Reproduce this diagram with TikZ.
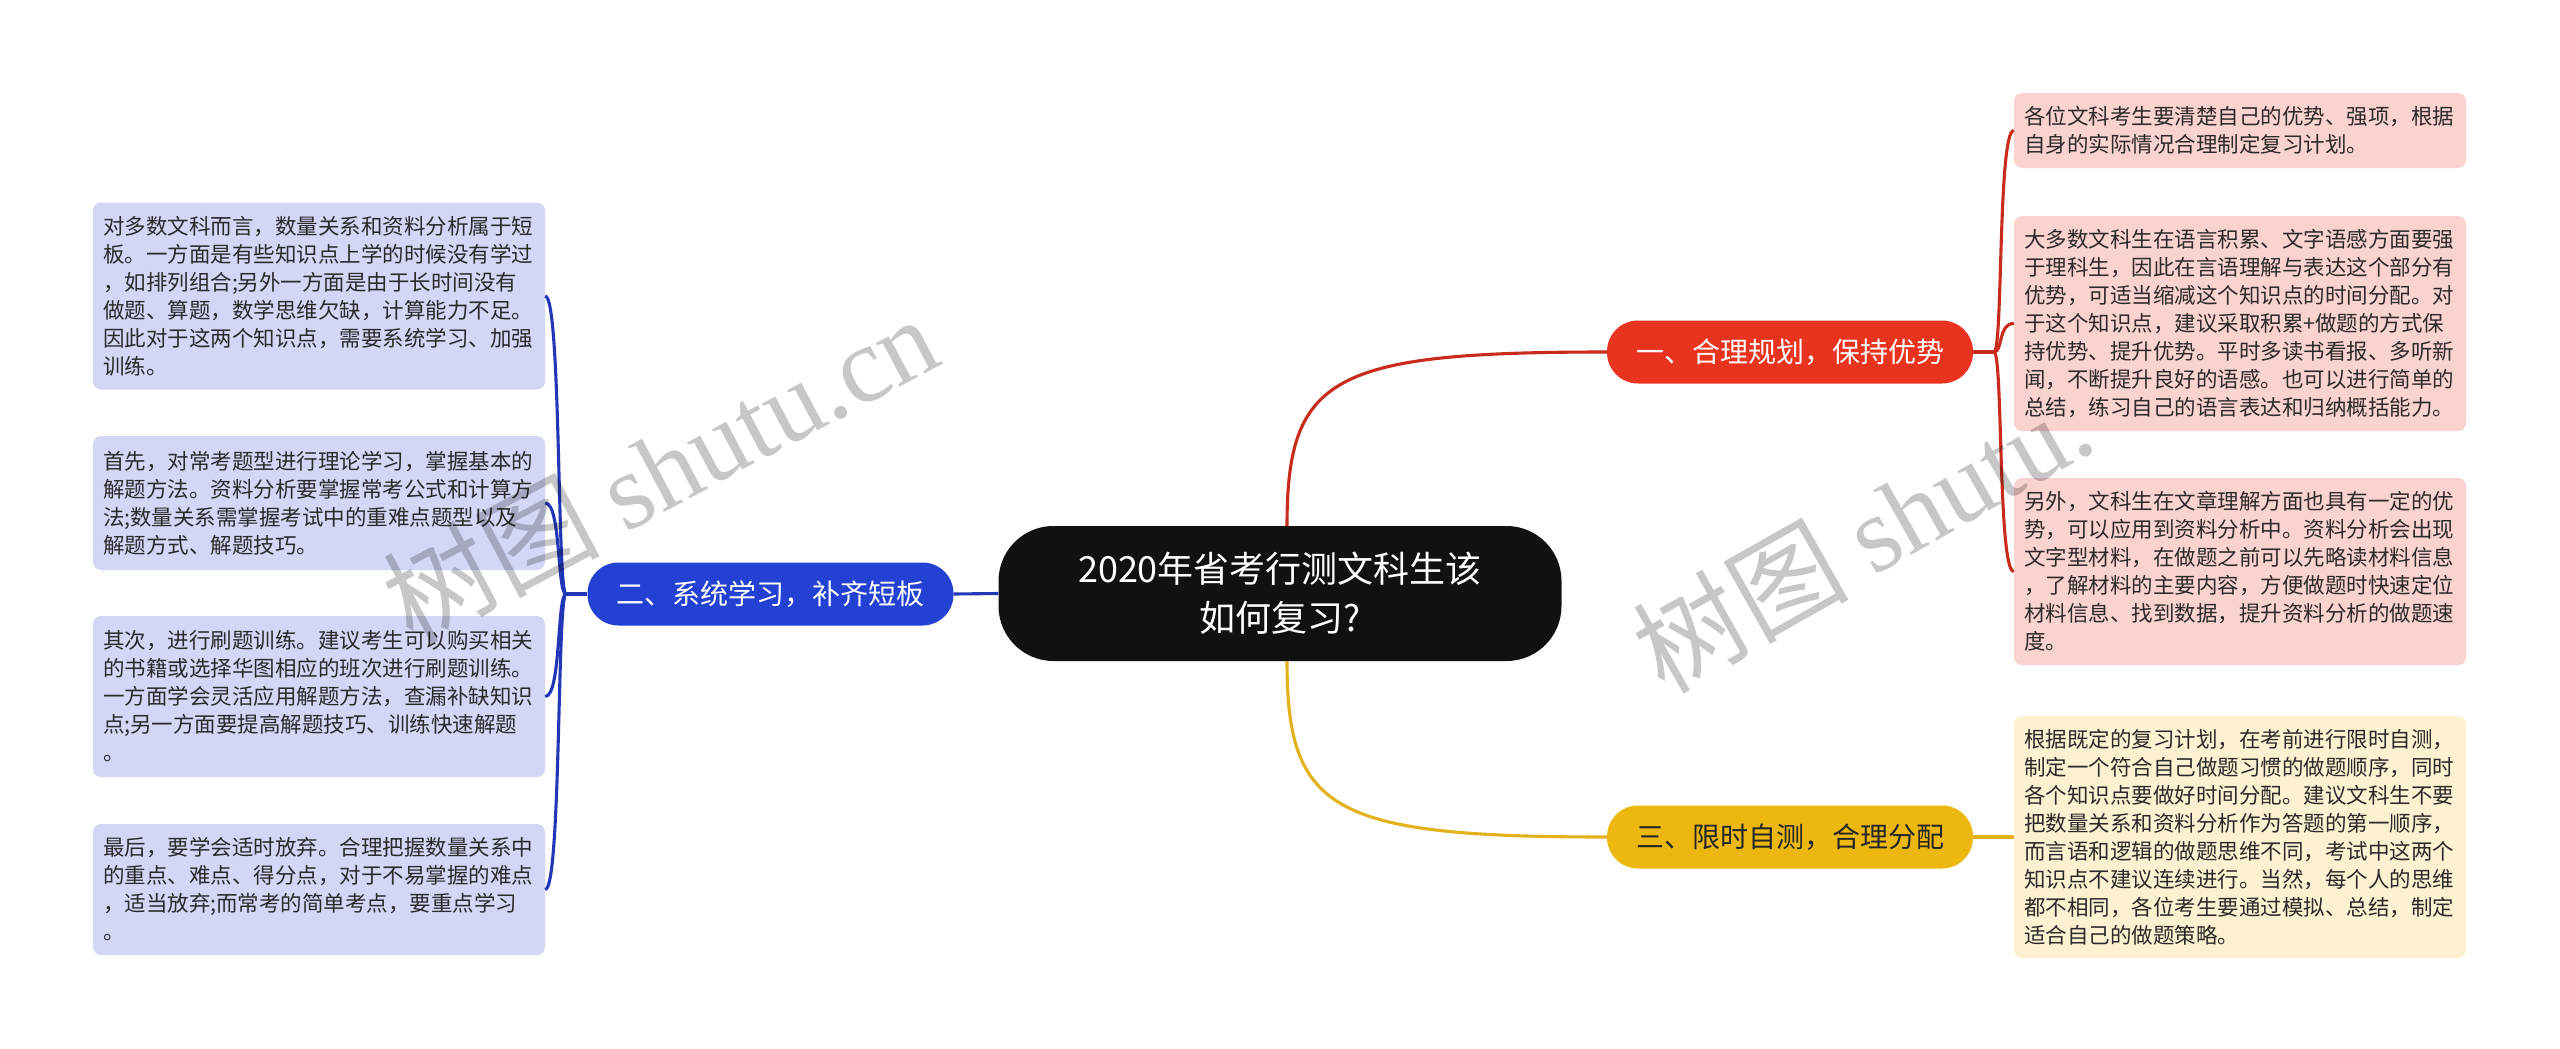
\documentclass[tikz,border=0pt]{standalone}
\usepackage{fontspec}
\setmainfont{Noto Sans CJK SC}
\newfontfamily\wmserif{Liberation Serif}
\usetikzlibrary{calc}
\definecolor{centerfill}{HTML}{111111}
\definecolor{redfill}{HTML}{E8331E}
\definecolor{bluefill}{HTML}{2341D3}
\definecolor{yellowfill}{HTML}{ECB80F}
\definecolor{redline}{HTML}{C92B1B}
\definecolor{blueline}{HTML}{2236B8}
\definecolor{yellowline}{HTML}{E3B11A}
\definecolor{lavbox}{HTML}{D3D7F5}
\definecolor{pinkbox}{HTML}{FAD3D0}
\definecolor{creambox}{HTML}{FDF1D2}
\definecolor{leaftext}{HTML}{2A2A2A}
\begin{document}
\begin{tikzpicture}[x=1pt,y=-1pt,
  leafbox/.style={rounded corners=8pt, inner sep=0pt, minimum width=452pt,
    text width=432pt, align=left, text=leaftext,
    font=\fontsize{21.5}{28}\selectfont},
  branch/.style={rounded corners=31pt, inner sep=0pt, minimum width=366pt,
    minimum height=63pt, font=\fontsize{28}{34}\selectfont},
  rootnode/.style={fill=centerfill, text=white, rounded corners=55pt,
    inner sep=0pt, minimum width=563pt, minimum height=135pt, align=center,
    font=\fontsize{36}{49}\selectfont},
  redl/.style={draw=redline, line width=3.1pt},
  bluel/.style={draw=blueline, line width=3.1pt},
  yell/.style={draw=yellowline, line width=3.1pt},
  wmark/.style={text=black, opacity=0.22, rotate=28, inner sep=0pt}
]
\useasboundingbox (0,0) rectangle (2560,1049);
\fill[white] (0,0) rectangle (2560,1049);

% root and branches
\node[rootnode] (root) at (1280,593.5) {2020年省考行测文科生该\\如何复习?};
\node[branch, fill=redfill, text=white] (b1) at (1790,352) {一、合理规划，保持优势};
\node[branch, fill=bluefill, text=white] (b2) at (770.5,594) {二、系统学习，补齐短板};
\node[branch, fill=yellowfill, text=black!85] (b3) at (1790,837) {三、限时自测，合理分配};

% left leaves
\node[leafbox, fill=lavbox, minimum height=187pt] (l1) at (319,296) {对多数文科而言，数量关系和资料分析属于短\\板。一方面是有些知识点上学的时候没有学过\\，如排列组合;另外一方面是由于长时间没有\\做题、算题，数学思维欠缺，计算能力不足。\\因此对于这两个知识点，需要系统学习、加强\\训练。};
\node[leafbox, fill=lavbox, minimum height=134pt] (l2) at (319,503) {首先，对常考题型进行理论学习，掌握基本的\\解题方法。资料分析要掌握常考公式和计算方\\法;数量关系需掌握考试中的重难点题型以及\\解题方式、解题技巧。};
\node[leafbox, fill=lavbox, minimum height=161pt] (l3) at (319,696.5) {其次，进行刷题训练。建议考生可以购买相关\\的书籍或选择华图相应的班次进行刷题训练。\\一方面学会灵活应用解题方法，查漏补缺知识\\点;另一方面要提高解题技巧、训练快速解题\\。};
\node[leafbox, fill=lavbox, minimum height=131pt] (l4) at (319,889.5) {最后，要学会适时放弃。合理把握数量关系中\\的重点、难点、得分点，对于不易掌握的难点\\，适当放弃;而常考的简单考点，要重点学习\\。};

% right leaves
\node[leafbox, fill=pinkbox, minimum height=75pt] (r1) at (2240,130.5) {各位文科考生要清楚自己的优势、强项，根据\\自身的实际情况合理制定复习计划。};
\node[leafbox, fill=pinkbox, minimum height=215pt] (r2) at (2240,323.5) {大多数文科生在语言积累、文字语感方面要强\\于理科生，因此在言语理解与表达这个部分有\\优势，可适当缩减这个知识点的时间分配。对\\于这个知识点，建议采取积累+做题的方式保\\持优势、提升优势。平时多读书看报、多听新\\闻，不断提升良好的语感。也可以进行简单的\\总结，练习自己的语言表达和归纳概括能力。};
\node[leafbox, fill=pinkbox, minimum height=187pt] (r3) at (2240,571.5) {另外，文科生在文章理解方面也具有一定的优\\势，可以应用到资料分析中。资料分析会出现\\文字型材料，在做题之前可以先略读材料信息\\，了解材料的主要内容，方便做题时快速定位\\材料信息、找到数据，提升资料分析的做题速\\度。};
\node[leafbox, fill=creambox, minimum height=242pt] (r4) at (2240,837) {根据既定的复习计划，在考前进行限时自测，\\制定一个符合自己做题习惯的做题顺序，同时\\各个知识点要做好时间分配。建议文科生不要\\把数量关系和资料分析作为答题的第一顺序，\\而言语和逻辑的做题思维不同，考试中这两个\\知识点不建议连续进行。当然，每个人的思维\\都不相同，各位考生要通过模拟、总结，制定\\适合自己的做题策略。};

% root to branches
\draw[redl] ($(root.north)+(7,0)$) .. controls +(0,-150) and +(-275,0) .. (b1.west);
\draw[yell] ($(root.south)+(7,0)$) .. controls +(0,150) and +(-275,0) .. (b3.west);
\draw[bluel] (b2.east) -- (root.west);

% right tree (red)
\coordinate (jr) at (1994,352);
\draw[redl] (b1.east) -- (jr);
\foreach \t in {r1,r2,r3}
  \draw[redl] (jr) .. controls +(9,0) and +(-16,0) .. (\t.west);
% yellow
\draw[yell] (b3.east) -- (r4.west);

% left tree (blue)
\coordinate (jl) at (566,594);
\draw[bluel] (b2.west) -- (jl);
\foreach \t in {l1,l2,l3,l4}
  \draw[bluel] (jl) .. controls +(-9,0) and +(16,0) .. (\t.east);

% watermarks
\node[wmark, font=\fontsize{108}{108}\selectfont] (wm1) at (660,468) {树图 {\wmserif shutu.cn}};
\node[wmark, rotate=1.5, font=\fontsize{108}{108}\selectfont] (wm2) at (1862,536) {树图 {\wmserif shutu.}};
\end{tikzpicture}
\end{document}
